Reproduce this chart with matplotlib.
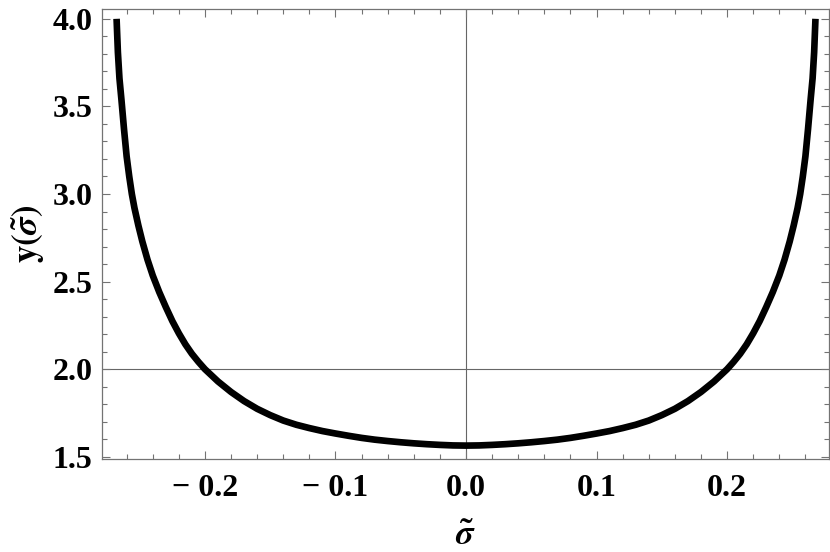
import numpy as np
import matplotlib.pyplot as plt
from matplotlib.ticker import MultipleLocator, FixedLocator, FixedFormatter

plt.rcParams['font.family'] = ['Liberation Serif', 'DejaVu Serif']
plt.rcParams['font.weight'] = 'bold'
plt.rcParams['mathtext.fontset'] = 'stix'

# valores (curva simetrica)
sigma = [-0.2677, -0.2667, -0.2655, -0.264, -0.262, -0.260, -0.258, -0.256,
         -0.254, -0.251, -0.248, -0.244, -0.240, -0.235, -0.230, -0.225,
         -0.220, -0.215, -0.210, -0.205, -0.200, -0.19, -0.18, -0.17, -0.16,
         -0.15, -0.14, -0.13, -0.12, -0.11, -0.10, -0.09, -0.08, -0.07,
         -0.06, -0.05, -0.04, -0.03, -0.02, -0.01, 0.0,
         0.01, 0.02, 0.03, 0.04, 0.05, 0.06, 0.07, 0.08, 0.09, 0.10,
         0.11, 0.12, 0.13, 0.14, 0.15, 0.16, 0.17, 0.18, 0.19, 0.200,
         0.205, 0.210, 0.215, 0.220, 0.225, 0.230, 0.235, 0.240, 0.244,
         0.248, 0.251, 0.254, 0.256, 0.258, 0.260, 0.262, 0.264, 0.2655,
         0.2667, 0.2677]
y_vals = [4.000, 3.810, 3.660, 3.540, 3.370, 3.215, 3.100, 3.000,
          2.920, 2.820, 2.730, 2.625, 2.535, 2.440, 2.355, 2.275,
          2.205, 2.142, 2.088, 2.042, 2.000, 1.930, 1.870, 1.818, 1.774,
          1.738, 1.707, 1.683, 1.664, 1.647, 1.633, 1.620, 1.608, 1.598,
          1.590, 1.583, 1.577, 1.572, 1.568, 1.565, 1.564,
          1.565, 1.568, 1.572, 1.577, 1.583, 1.590, 1.598, 1.608, 1.620, 1.633,
          1.647, 1.664, 1.683, 1.707, 1.738, 1.774, 1.818, 1.870, 1.930, 2.000,
          2.042, 2.088, 2.142, 2.205, 2.275, 2.355, 2.440, 2.535, 2.625,
          2.730, 2.820, 2.920, 3.000, 3.100, 3.215, 3.370, 3.540, 3.660,
          3.810, 4.000]

x_ticks = [-0.2, -0.1, 0.0, 0.1, 0.2]
x_labels = ['\u2212 0.2', '\u2212 0.1', '0.0', '0.1', '0.2']
y_ticks = [1.5, 2.0, 2.5, 3.0, 3.5, 4.0]
y_labels = ['1.5', '2.0', '2.5', '3.0', '3.5', '4.0']

fig = plt.figure(figsize=(8.3, 5.52), dpi=100)
ax = fig.add_axes([0.123, 0.168, 0.876, 0.816])

frame_col = '0.45'
ax.axvline(0.0, color='0.4', lw=0.8, zorder=1)
ax.axhline(2.0, color='0.4', lw=0.8, zorder=1)

ax.plot(sigma, y_vals, color='black', lw=4.8, solid_capstyle='butt',
        solid_joinstyle='round', zorder=3)

ax.set_xlim(-0.2788, 0.2782)
ax.set_ylim(1.486, 4.057)

ax.xaxis.set_major_locator(FixedLocator(x_ticks))
ax.xaxis.set_major_formatter(FixedFormatter(x_labels))
ax.yaxis.set_major_locator(FixedLocator(y_ticks))
ax.yaxis.set_major_formatter(FixedFormatter(y_labels))
ax.xaxis.set_minor_locator(MultipleLocator(0.02))
ax.yaxis.set_minor_locator(MultipleLocator(0.1))

for s in ax.spines.values():
    s.set_color(frame_col)
    s.set_linewidth(0.9)

ax.tick_params(which='both', direction='in', top=True, right=True,
               color=frame_col, width=0.8)
ax.tick_params(which='major', length=6)
ax.tick_params(which='minor', length=3.5)
ax.tick_params(axis='x', which='major', labelsize=23, pad=10.5)
ax.tick_params(axis='y', which='major', labelsize=23, pad=7)

ax.set_xlabel(r'$\tilde{\sigma}$', fontsize=25, labelpad=12)
ax.set_ylabel(r'$\mathbf{y(}\tilde{\sigma}\mathbf{)}$', fontsize=25, labelpad=4)

fig.savefig('out.png', dpi=100)
